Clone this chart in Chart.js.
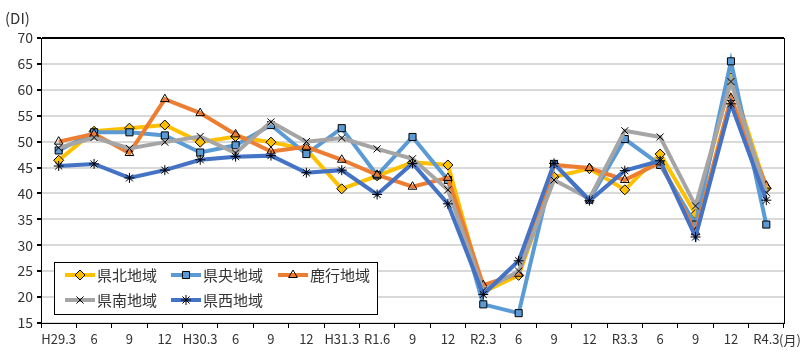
<!DOCTYPE html>
<html>
<head>
<meta charset="utf-8">
<script src="https://cdn.jsdelivr.net/npm/chart.js@4"></script>
<style>
  body { margin: 0; background: #fff; }
  #wrap { width: 800px; height: 358px; }
</style>
</head>
<body>
<div id="wrap"><canvas id="myChart" width="800" height="358"></canvas></div>
<script>
// 期間ラベル
const labels = ['H29.3','6','9','12','H30.3','6','9','12','H31.3','R1.6','9','12','R2.3','6','9','12','R3.3','6','9','12','R4.3']

// 地域別DI
const kenpoku = [46.4, 52.0, 52.6, 53.2, 49.9, 51.0, 49.9, 48.5, 40.9, 43.4, 46.0, 45.5, 21.0, 24.2, 43.2, 44.8, 40.7, 47.6, 36.0, 62.3, 41.0]
const kenou   = [48.3, 51.8, 51.8, 51.2, 47.9, 49.3, 53.2, 47.6, 52.6, 43.5, 50.9, 42.6, 18.6, 16.9, 45.7, 38.8, 50.5, 45.5, 34.0, 65.5, 34.0]
const rokko   = [50.0, 51.5, 47.8, 58.2, 55.5, 51.4, 48.1, 49.0, 46.5, 43.6, 41.3, 43.0, 22.3, 24.5, 45.5, 44.9, 42.6, 46.0, 32.5, 58.4, 41.5]
const kennan  = [48.8, 50.8, 48.7, 49.9, 51.0, 47.8, 53.8, 50.0, 50.7, 48.6, 46.7, 40.7, 21.3, 25.0, 42.6, 39.0, 52.1, 50.9, 37.6, 61.6, 40.2]
const kensei  = [45.3, 45.7, 43.0, 44.5, 46.5, 47.1, 47.3, 44.0, 44.5, 39.8, 45.8, 38.0, 20.5, 27.0, 45.8, 38.6, 44.4, 46.3, 31.6, 57.3, 38.7]

const fontJP = "'Noto Sans CJK JP', 'Noto Sans', sans-serif"

function serie(nome, valores, cor, forma, fundo, ordem){
  return {
    label: nome,
    data: valores,
    borderColor: cor,
    backgroundColor: cor,
    borderWidth: 4,
    tension: 0,
    pointStyle: forma,
    pointRadius: 5,
    pointHoverRadius: 5,
    pointBackgroundColor: fundo,
    pointBorderColor: '#000',
    pointBorderWidth: 1,
    order: ordem
  }
}

const datasets = [
  serie('県北地域', kenpoku, '#FFC000', 'rectRot', '#FFC000', 5),
  serie('県央地域', kenou, '#5B9BD5', 'rect', '#5B9BD5', 4),
  serie('鹿行地域', rokko, '#ED7D31', 'triangle', 'rgba(0,0,0,0)', 3),
  serie('県南地域', kennan, '#A5A5A5', 'crossRot', '#000', 2),
  serie('県西地域', kensei, '#4472C4', 'star', '#000', 1)
]

// 枠線・凡例・単位
const extras = {
  id: 'extras',
  afterDraw(chart){
    const ctx = chart.ctx
    const a = chart.chartArea
    ctx.save()
    ctx.strokeStyle = '#000'
    ctx.lineWidth = 1
    ctx.strokeRect(Math.round(a.left) + 0.5, Math.round(a.top) + 0.5, Math.round(a.right - a.left), Math.round(a.bottom - a.top))

    ctx.fillStyle = '#333'
    ctx.font = '15px ' + fontJP
    ctx.textBaseline = 'middle'
    ctx.textAlign = 'left'
    ctx.fillText('(DI)', 5, 18)
    ctx.font = '13px ' + fontJP
    ctx.fillText('(月)', 779, 340)

    // 凡例
    const bx = 54, by = 262, bw = 323, bh = 52
    ctx.fillStyle = '#fff'
    ctx.fillRect(bx, by, bw, bh)
    ctx.strokeStyle = '#000'
    ctx.strokeRect(bx + 0.5, by + 0.5, bw, bh)
    const cols = [65, 171, 278]
    const rows = [275, 300]
    chart.data.datasets.forEach((ds, i) => {
      const x = cols[i % 3], y = rows[Math.floor(i / 3)]
      ctx.strokeStyle = ds.borderColor
      ctx.lineWidth = 4
      ctx.beginPath()
      ctx.moveTo(x, y)
      ctx.lineTo(x + 30, y)
      ctx.stroke()
      ctx.fillStyle = ds.pointBackgroundColor
      ctx.strokeStyle = '#000'
      ctx.lineWidth = 1
      Chart.helpers.drawPoint(ctx, { pointStyle: ds.pointStyle, radius: 5, rotation: 0, borderWidth: 1 }, x + 15, y)
      ctx.fillStyle = '#333'
      ctx.font = '15px ' + fontJP
      ctx.textAlign = 'left'
      ctx.fillText(ds.label, x + 32, y)
    })
    ctx.restore()
  }
}

const ctx = document.getElementById('myChart')

const config = {
  type: 'line',
  data: { labels: labels, datasets: datasets },
  options: {
    responsive: false,
    animation: false,
    layout: { padding: { top: 38, right: 16, left: 0, bottom: 0 } },
    plugins: {
      legend: { display: false },
      tooltip: { enabled: false }
    },
    scales: {
      x: {
        offset: true,
        grid: { offset: true, drawOnChartArea: false, drawTicks: true, tickLength: 5, color: '#000' },
        border: { color: '#000' },
        ticks: { color: '#333', font: { family: fontJP, size: 13 }, maxRotation: 0, autoSkip: false, padding: 3 },
        afterFit(scale){ scale.height = 35 }
      },
      y: {
        min: 15,
        max: 70,
        ticks: { stepSize: 5, color: '#333', font: { family: fontJP, size: 14 }, padding: 4 },
        grid: {
          color: (c) => c.tick && c.tick.value === 70 ? '#000' : '#D9D9D9',
          lineWidth: 2,
          tickColor: '#000',
          tickLength: 4
        },
        border: { color: '#000', width: 1 },
        afterFit(scale){ scale.width = 41 }
      }
    }
  },
  plugins: [extras]
}

const myChart = new Chart(ctx, config)
</script>
</body>
</html>
